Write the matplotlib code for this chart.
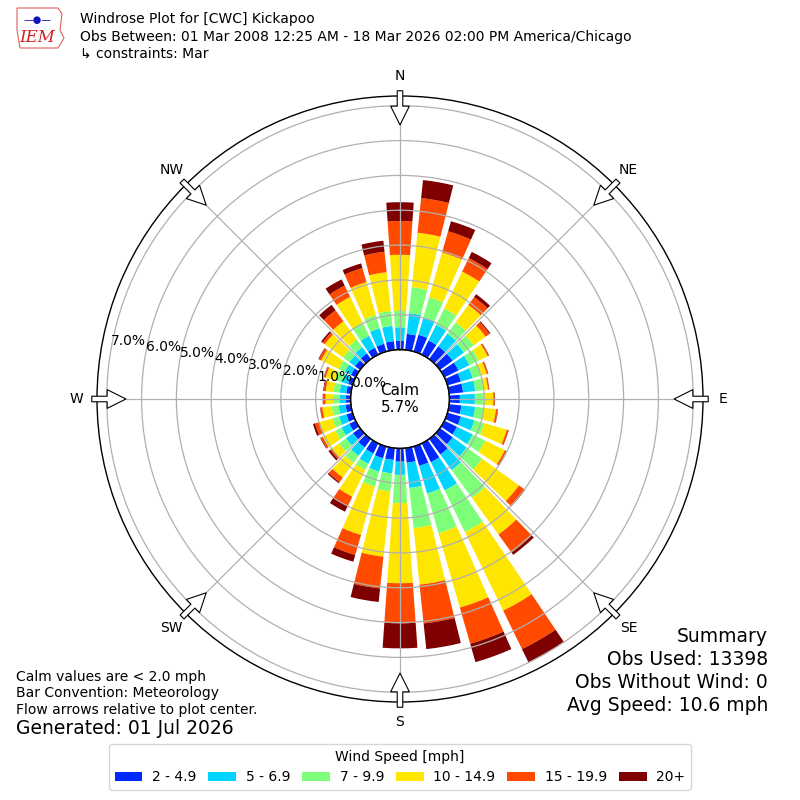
import numpy as np
import matplotlib
matplotlib.use("Agg")
import matplotlib.pyplot as plt
from matplotlib.patches import Patch, Polygon

# ---------------- data (percent of observations, cumulative per speed bin) -------------
directions = list(range(0, 360, 10))
speed_bins = ["2 - 4.9", "5 - 6.9", "7 - 9.9", "10 - 14.9", "15 - 19.9", "20+"]
bin_colors = ["#0028ff", "#00d4ff", "#7dff7a", "#ffe600", "#ff4a00", "#7f0000"]

cum_2_49 = [0.25, 0.46, 0.50, 0.45, 0.45, 0.45, 0.45, 0.40, 0.40, 0.30, 0.35, 0.40,
            0.40, 0.45, 0.55, 0.60, 0.58, 0.42, 0.38, 0.34, 0.35, 0.32, 0.30, 0.25,
            0.20, 0.18, 0.15, 0.13, 0.13, 0.13, 0.15, 0.18, 0.20, 0.22, 0.23, 0.25]
cum_5_69 = [0.64, 1.06, 1.02, 0.95, 0.90, 0.85, 0.80, 0.75, 0.75, 0.73, 0.75, 0.80,
            0.90, 0.95, 1.10, 1.50, 1.40, 1.15, 0.76, 0.73, 0.75, 0.65, 0.60, 0.50,
            0.45, 0.40, 0.35, 0.32, 0.32, 0.32, 0.35, 0.38, 0.42, 0.60, 0.69, 0.69]
cum_7_99 = [1.11, 1.81, 1.62, 1.47, 1.30, 1.20, 1.10, 1.00, 0.98, 0.97, 1.00, 1.10,
            1.30, 1.50, 2.10, 2.83, 2.59, 2.31, 1.57, 1.25, 1.20, 0.85, 0.85, 0.75,
            0.65, 0.60, 0.55, 0.50, 0.50, 0.52, 0.55, 0.60, 0.69, 1.03, 1.09, 1.12]
cum_10_149 = [2.72, 3.38, 2.96, 2.65, 1.92, 1.62, 1.38, 1.17, 1.12, 1.26, 1.35, 1.77,
              1.93, 2.80, 3.39, 5.34, 4.81, 3.94, 3.87, 3.13, 2.64, 1.70, 1.37, 1.00,
              1.05, 0.98, 0.82, 0.72, 0.72, 0.80, 1.10, 1.25, 1.34, 1.84, 2.07, 2.24]
cum_15_199 = [3.69, 4.38, 3.59, 3.08, 2.20, 1.76, 1.42, 1.21, 1.15, 1.30, 1.40, 1.82,
              1.99, 3.00, 4.03, 6.57, 5.89, 5.06, 5.02, 4.05, 3.24, 2.00, 1.53, 1.06,
              1.11, 1.12, 0.88, 0.78, 0.78, 0.85, 1.17, 1.33, 1.73, 2.20, 2.49, 2.83]
cum_20p = [4.23, 4.90, 3.89, 3.28, 2.30, 1.79, 1.43, 1.22, 1.16, 1.31, 1.41, 1.83,
           2.00, 3.02, 4.11, 6.99, 6.44, 5.80, 5.74, 4.44, 3.44, 2.18, 1.57, 1.12,
           1.13, 1.18, 0.89, 0.80, 0.80, 0.86, 1.19, 1.38, 1.92, 2.40, 2.63, 3.15]

radial_ticks = [0, 1, 2, 3, 4, 5, 6, 7]
compass_labels = ["N", "NE", "E", "SE", "S", "SW", "W", "NW"]
compass_angles = [0, 45, 90, 135, 180, 225, 270, 315]
calm_pct = 5.7

title_lines = ["Windrose Plot for [CWC] Kickapoo",
               "Obs Between: 01 Mar 2008 12:25 AM - 18 Mar 2026 02:00 PM America/Chicago",
               "\u21b3 constraints: Mar"]
left_notes = ["Calm values are < 2.0 mph", "Bar Convention: Meteorology",
              "Flow arrows relative to plot center."]
generated = "Generated: 01 Jul 2026"
summary = ["Summary", "Obs Used: 13398", "Obs Without Wind: 0", "Avg Speed: 10.6 mph"]

# ---------------- figure ----------------
plt.rcParams['font.family'] = ['DejaVu Sans']
fig = plt.figure(figsize=(8, 8), dpi=100)
ax = fig.add_axes([0.12125, 0.1225, 0.7575, 0.7575], projection='polar')
ax.set_theta_zero_location('N')
ax.set_theta_direction(-1)

theta = np.radians(directions)
width = np.radians(8)
cums = [cum_2_49, cum_5_69, cum_7_99, cum_10_149, cum_15_199, cum_20p]
prev = np.zeros(len(directions))
for c, col in zip(cums, bin_colors):
    c = np.array(c)
    ax.bar(theta, c - prev, bottom=prev, width=width, color=col,
           linewidth=0, zorder=1)
    prev = c

rmax = 7.28
ax.set_ylim(0, rmax)
ax.set_rorigin(-1.42)
ax.set_yticks(radial_ticks)
ax.set_yticklabels([f"{v:.1f}%" for v in radial_ticks], fontsize=10)
ax.set_rlabel_position(280)
ax.set_xticks(np.radians(compass_angles))
ax.set_xticklabels([])
ax.grid(True, color='#b0b0b0', linewidth=0.9)
ax.set_axisbelow(False)
for name, sp in ax.spines.items():
    sp.set_color('black')
    sp.set_linewidth(1.0)

# calm circle outline
tt = np.linspace(0, 2 * np.pi, 361)
ax.plot(tt, np.zeros_like(tt), color='black', lw=1.0, zorder=6, clip_on=False)
ax.text(0, -1.42, f"Calm\n{calm_pct:.1f}%", ha='center', va='center', fontsize=11,
        zorder=7)

# compass labels and flow arrows
for lab, ang in zip(compass_labels, compass_angles):
    th = np.radians(ang)
    ax.text(th, 7.86, lab, ha='center', va='center', fontsize=10, clip_on=False)
    ax.annotate('', xy=(th, 6.45), xytext=(th, 7.43),
                arrowprops=dict(arrowstyle='simple,head_length=1.35,head_width=1.35,tail_width=0.4',
                                fc='white', ec='black', lw=0.8, shrinkA=0, shrinkB=0,
                                mutation_scale=10),
                annotation_clip=False, zorder=8)

# header
fig.text(0.1, 1 - 19 / 800, title_lines[0], fontsize=10, va='center', ha='left')
fig.text(0.1, 1 - 37 / 800, title_lines[1], fontsize=10, va='center', ha='left')
fig.text(0.1, 1 - 54 / 800, title_lines[2], fontsize=10, va='center', ha='left')
# simple logo
logo = Polygon([[17 / 800, 1 - 8 / 800], [58 / 800, 1 - 8 / 800], [62 / 800, 1 - 14 / 800],
                [60 / 800, 1 - 30 / 800], [64 / 800, 1 - 38 / 800], [58 / 800, 1 - 48 / 800],
                [20 / 800, 1 - 48 / 800], [17 / 800, 1 - 30 / 800]],
               closed=True, fill=False, ec='#e06060', lw=0.8, transform=fig.transFigure)
fig.add_artist(logo)
fig.text(37 / 800, 1 - 38 / 800, "IEM", color='#d02020', fontsize=12, style='italic',
         family=['DejaVu Serif'], ha='center', va='center')
fig.text(38 / 800, 1 - 20 / 800, "\u2014\u25cf\u2014", color='#1010c0', fontsize=7,
         ha='center', va='center')

# bottom-left notes
for txt, y in zip(left_notes, [676.5, 693.3, 710]):
    fig.text(16 / 800, 1 - y / 800, txt, fontsize=10, ha='left', va='center')
fig.text(16 / 800, 1 - 728.5 / 800, generated, fontsize=13.5, ha='left', va='center')

# summary
for txt, y in zip(summary, [636, 659.3, 682.7, 705.5]):
    fig.text(768 / 800, 1 - y / 800, txt, fontsize=13.5, ha='right', va='center')

# legend
handles = [Patch(facecolor=c, edgecolor='none') for c in bin_colors]
fig.legend(handles, speed_bins, ncol=6, loc='lower center',
           bbox_to_anchor=(0.5, 0.0125), borderaxespad=0.0,
           title="Wind Speed [mph]", fontsize=10,
           title_fontsize=10, columnspacing=0.85, handletextpad=0.7)

fig.savefig("out.png", dpi=100)
